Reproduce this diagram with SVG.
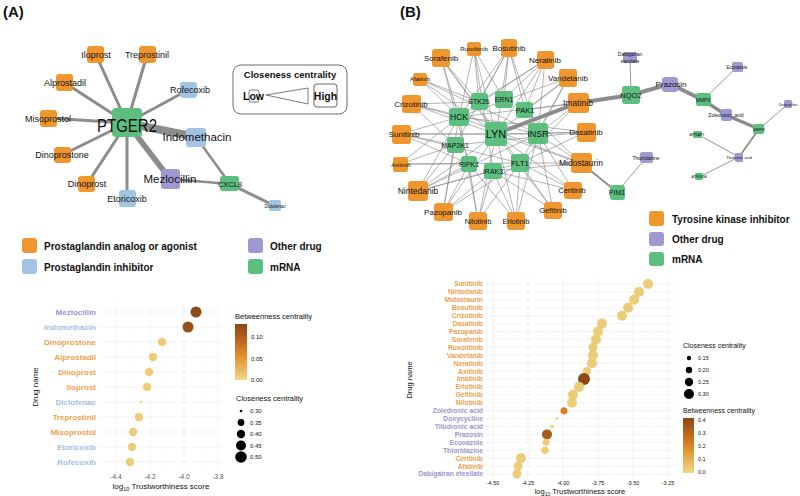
<svg xmlns="http://www.w3.org/2000/svg" width="800" height="496" viewBox="0 0 800 496">
<defs>
<style>
text{font-family:"Liberation Sans",Arial,sans-serif;fill:#111}
.or{fill:#F0962E}.bl{fill:#A3C3E3}.pu{fill:#9E99D1}.gr{fill:#5CBF80}
.lb{text-anchor:middle}
.e{stroke:#8C8C8C;fill:none;stroke-linecap:round}
.eb{stroke:#888;fill:none;stroke-width:0.7;stroke-opacity:0.9}
.leg{font-weight:bold;font-size:10px}
.yl{font-weight:bold;text-anchor:end}
.lo{fill:#EE9F4E}.lbl{fill:#A3C1E1}.lpu{fill:#9C95CE}
.gmaj{stroke:#EBEBEB;stroke-width:0.6}
.gmin{stroke:#F4F4F4;stroke-width:0.4}
.tick{fill:#555;font-size:6.5px;text-anchor:middle}
.dl{fill:#EDCC78}
</style>
<linearGradient id="gA" x1="0" y1="0" x2="0" y2="1">
<stop offset="0" stop-color="#8B4513"/><stop offset="0.3" stop-color="#C0661E"/><stop offset="0.6" stop-color="#E3962F"/><stop offset="1" stop-color="#F1D88C"/>
</linearGradient>
</defs>
<rect width="800" height="496" fill="#fff"/>

<text x="3" y="17" font-size="15" font-weight="bold">(A)</text>
<text x="400" y="17" font-size="15" font-weight="bold">(B)</text>

<!-- Panel A connectors -->
<g id="edgesA">
<path class="e" stroke-width="3" d="M127 123L96 55M127 123L147 55M127 123L65 83M127 123L188 90M127 123L48 118M127 123L62 155M127 123L87 184M127 123L127 199M230 184L275 206"/>
<path class="e" stroke-width="8" d="M127 123L196 137"/>
<path class="e" stroke-width="5.5" d="M127 123L170 179"/>
<path class="e" stroke-width="2.5" d="M196 137L230 184M170 179L230 184"/>
</g>

<!-- Panel A nodes -->
<g id="nodePTGER2"><rect class="gr" x="112" y="108" width="30" height="29" rx="4"/><text class="lb" x="127" y="132" font-size="19" textLength="60" lengthAdjust="spacingAndGlyphs">PTGER2</text></g>
<g id="nodeIloprost"><rect class="or" x="87" y="46" width="17" height="17" rx="3"/><text class="lb" x="96" y="58" font-size="9">Iloprost</text></g>
<g id="nodeTreprostinil"><rect class="or" x="139" y="46" width="17" height="17" rx="3"/><text class="lb" x="147" y="58" font-size="9">Treprostinil</text></g>
<g id="nodeAlprostadil"><rect class="or" x="56" y="74" width="17" height="17" rx="3"/><text class="lb" x="65" y="86" font-size="9">Alprostadil</text></g>
<g id="nodeRofecoxib"><rect class="bl" x="180" y="82" width="17" height="16" rx="3"/><text class="lb" x="190" y="93" font-size="9">Rofecoxib</text></g>
<g id="nodeMisoprostol"><rect class="or" x="40" y="110" width="17" height="17" rx="3"/><text class="lb" x="48" y="122" font-size="9">Misoprostol</text></g>
<g id="nodeIndomethacin"><rect class="bl" x="186" y="128" width="20" height="19" rx="3"/><text class="lb" x="197" y="141" font-size="11.5">Indomethacin</text></g>
<g id="nodeDinoprostone"><rect class="or" x="54" y="147" width="17" height="16" rx="3"/><text class="lb" x="62" y="158" font-size="9">Dinoprostone</text></g>
<g id="nodeDinoprost"><rect class="or" x="78" y="176" width="17" height="16" rx="3"/><text class="lb" x="87" y="187" font-size="9">Dinoprost</text></g>
<g id="nodeEtoricoxib"><rect class="bl" x="119" y="190" width="17" height="17" rx="3"/><text class="lb" x="127" y="202" font-size="9">Etoricoxib</text></g>
<g id="nodeMezlocillin"><rect class="pu" x="161" y="169" width="19" height="20" rx="3"/><text class="lb" x="170" y="183" font-size="11.5">Mezlocillin</text></g>
<g id="nodeCXCL8"><rect class="gr" x="220" y="176" width="19" height="15" rx="3"/><text class="lb" x="230" y="187" font-size="7.5">CXCL8</text></g>
<g id="nodeDiclofenac"><rect class="bl" x="269" y="200" width="12" height="11" rx="2"/><text class="lb" x="275" y="208" font-size="4.5">Diclofenac</text></g>

<!-- Closeness legend A -->
<g id="closenessKey">
<rect x="233" y="65" width="114" height="49" rx="8" fill="none" stroke="#444" stroke-width="0.8"/>
<text x="290" y="78" class="lb" font-size="9.5" font-weight="bold">Closeness centrality</text>
<rect x="249" y="90" width="10" height="12" rx="2" fill="none" stroke="#444" stroke-width="0.7"/>
<text x="243" y="100" font-size="10.5" font-weight="bold">Low</text>
<polygon points="266,95 308,88 308,104" fill="none" stroke="#444" stroke-width="0.7"/>
<rect x="314" y="84" width="23" height="23" rx="3" fill="none" stroke="#444" stroke-width="0.8"/>
<text x="325.5" y="100" class="lb" font-size="10.5" font-weight="bold">High</text>
</g>

<!-- Legend A -->
<g id="legendA">
<rect class="or" x="22" y="238" width="15" height="15" rx="3"/><text class="leg" x="44" y="250">Prostaglandin analog or agonist</text>
<rect class="bl" x="22" y="259" width="15" height="15" rx="3"/><text class="leg" x="44" y="271">Prostaglandin inhibitor</text>
<rect class="pu" x="248" y="238" width="15" height="15" rx="3"/><text class="leg" x="270" y="250">Other drug</text>
<rect class="gr" x="248" y="259" width="15" height="15" rx="3"/><text class="leg" x="270" y="271">mRNA</text>
</g>

<!-- Dot plot A -->
<g id="plotA">
<g class="gmin"><path d="M133 303V470M167 303V470M201 303V470"/></g>
<g class="gmaj"><path d="M116 303V470M150 303V470M184 303V470M218 303V470M100 312H222M100 327H222M100 342H222M100 357H222M100 372H222M100 387H222M100 402H222M100 417H222M100 432H222M100 447H222M100 462H222"/></g>
<g font-size="8">
<text class="yl lpu" x="96" y="315">Mezlocillin</text>
<text class="yl lbl" x="96" y="330">Indomethacin</text>
<text class="yl lo" x="96" y="345">Dinoprostone</text>
<text class="yl lo" x="96" y="360">Alprostadil</text>
<text class="yl lo" x="96" y="375">Dinoprost</text>
<text class="yl lo" x="96" y="390">Iloprost</text>
<text class="yl lbl" x="96" y="405">Diclofenac</text>
<text class="yl lo" x="96" y="420">Treprostinil</text>
<text class="yl lo" x="96" y="435">Misoprostol</text>
<text class="yl lbl" x="96" y="450">Etoricoxib</text>
<text class="yl lbl" x="96" y="465">Rofecoxib</text>
</g>
<circle cx="196" cy="312" r="5.5" fill="#8F4B16"/>
<circle cx="188" cy="327" r="5.5" fill="#97501A"/>
<circle class="dl" cx="162" cy="342" r="4.2"/>
<circle class="dl" cx="153" cy="357" r="4.2"/>
<circle class="dl" cx="149" cy="372" r="4.2"/>
<circle class="dl" cx="147" cy="387" r="4.2"/>
<circle class="dl" cx="141" cy="402" r="1.3"/>
<circle class="dl" cx="139" cy="417" r="4.2"/>
<circle class="dl" cx="133" cy="432" r="4.2"/>
<circle class="dl" cx="132" cy="447" r="4.2"/>
<circle class="dl" cx="130" cy="462" r="4.2"/>
<text class="tick" x="116" y="479">-4.4</text><text class="tick" x="150" y="479">-4.2</text><text class="tick" x="184" y="479">-4.0</text><text class="tick" x="218" y="479">-3.8</text>
<text x="161" y="489" font-size="8" text-anchor="middle">log<tspan font-size="5.5" dy="2">10</tspan><tspan dy="-2"> Trustworthiness score</tspan></text>
<text transform="translate(38,387) rotate(-90)" font-size="8" text-anchor="middle">Drug name</text>
<text x="235" y="319" font-size="7.5">Betweenness centrality</text>
<rect x="235" y="324" width="12" height="56" fill="url(#gA)"/>
<g font-size="6" fill="#444"><text x="251" y="339">0.10</text><text x="251" y="361">0.05</text><text x="251" y="382">0.00</text></g>
<text x="236" y="401" font-size="7.5">Closeness centrality</text>
<g fill="#000"><circle cx="241" cy="411" r="1.3"/><circle cx="241" cy="422.5" r="3.4"/><circle cx="241" cy="434" r="4.2"/><circle cx="241" cy="445.5" r="5"/><circle cx="241" cy="457" r="5.8"/></g>
<g font-size="6" fill="#444"><text x="250" y="413">0.30</text><text x="250" y="424.5">0.35</text><text x="250" y="436">0.40</text><text x="250" y="447.5">0.45</text><text x="250" y="459">0.50</text></g>
</g>

<!-- Panel B connectors -->
<g id="edgesB">
<path class="eb" d="M474 49L459 117M474 49L479 102M474 49L496 134M474 49L504 99M474 49L493 171
M509 48L479 102M509 48L504 99M509 48L525 110M509 48L496 134M509 48L459 117M509 48L455 145M509 48L538 134
M441 58L459 117M441 58L479 102M441 58L496 134M441 58L469 164M441 58L520 163
M545 60L459 117M545 60L479 102M545 60L504 99M545 60L525 110M545 60L538 134M545 60L496 134
M420 79L459 117M420 79L479 102M420 79L496 134M420 79L538 134
M411 104L459 117M411 104L479 102M411 104L496 134M411 104L538 134M411 104L455 145
M568 78L525 110M568 78L496 134M568 78L538 134M568 78L520 163M568 78L459 117
M578 103L538 134M578 103L520 163M578 103L459 117M578 103L525 110
M401 134L459 117M401 134L455 145M401 134L496 134M401 134L469 164M401 134L520 163M401 134L538 134
M586 132L538 134M586 132L496 134M586 132L520 163M586 132L459 117M586 132L455 145
M400 164L455 145M400 164L469 164M400 164L520 163M400 164L459 117
M581 163L538 134M581 163L520 163M581 163L496 134M581 163L493 171M581 163L459 117M581 163L525 110
M418 191L459 117M418 191L455 145M418 191L469 164M418 191L493 171M418 191L496 134M418 191L520 163M418 191L538 134
M573 190L520 163M573 190L538 134M573 190L496 134M573 190L493 171
M443 212L459 117M443 212L455 145M443 212L469 164M443 212L496 134M443 212L520 163M443 212L493 171
M553 210L520 163M553 210L493 171M553 210L538 134M553 210L496 134
M478 221L469 164M478 221L493 171M478 221L496 134M478 221L459 117M478 221L520 163
M516 221L493 171M516 221L520 163M516 221L496 134M516 221L469 164M516 221L538 134"/>
<path class="e" stroke-width="4" d="M496 134L578 103L631 95L670 84L703 100"/>
<path class="e" stroke-width="3.5" d="M703 100L726 115L759 129"/>
<path class="e" stroke-width="1.8" d="M581 163L617 192M759 129L739 157"/>
<path class="e" stroke-width="0.9" d="M617 192L646 158M631 95L630 57M703 100L737 67M759 129L788 104M739 157L697 134M739 157L699 177"/>
</g>

<!-- Panel B nodes -->
<g id="nodeRuxolitinib"><rect class="or" x="467" y="42" width="14" height="14" rx="2.5"/><text class="lb" x="474" y="51" font-size="6">Ruxolitinib</text></g>
<g id="nodeBosutinib"><rect class="or" x="501" y="39" width="16" height="18" rx="3"/><text class="lb" x="509" y="51" font-size="8">Bosutinib</text></g>
<g id="nodeSorafenib"><rect class="or" x="432" y="49" width="18" height="18" rx="3"/><text class="lb" x="441" y="61" font-size="8">Sorafenib</text></g>
<g id="nodeNeratinib"><rect class="or" x="537" y="51" width="17" height="18" rx="3"/><text class="lb" x="545" y="63" font-size="8">Neratinib</text></g>
<g id="nodeAfatinib"><rect class="or" x="413" y="73" width="14" height="13" rx="2.5"/><text class="lb" x="420" y="81" font-size="6">Afatinib</text></g>
<g id="nodeCrizotinib"><rect class="or" x="402" y="95" width="19" height="18" rx="3"/><text class="lb" x="411" y="107" font-size="8">Crizotinib</text></g>
<g id="nodeVandetanib"><rect class="or" x="559" y="69" width="18" height="18" rx="3"/><text class="lb" x="568" y="81" font-size="8">Vandetanib</text></g>
<g id="nodeImatinib"><rect class="or" x="568" y="93" width="21" height="20" rx="3"/><text class="lb" x="578" y="106" font-size="8.5">Imatinib</text></g>
<g id="nodeSunitinib"><rect class="or" x="392" y="125" width="19" height="19" rx="3"/><text class="lb" x="404" y="137" font-size="8">Sunitinib</text></g>
<g id="nodeDasatinib"><rect class="or" x="577" y="123" width="19" height="19" rx="3"/><text class="lb" x="586" y="135" font-size="8">Dasatinib</text></g>
<g id="nodeAxitinib"><rect class="or" x="393" y="157" width="15" height="15" rx="2.5"/><text class="lb" x="401" y="167" font-size="6">Axitinib</text></g>
<g id="nodeMidostaurin"><rect class="or" x="571" y="153" width="21" height="20" rx="3"/><text class="lb" x="581" y="166" font-size="8.5">Midostaurin</text></g>
<g id="nodeNintedanib"><rect class="or" x="408" y="181" width="20" height="20" rx="3"/><text class="lb" x="418" y="194" font-size="8.5">Nintedanib</text></g>
<g id="nodeCeritinib"><rect class="or" x="564" y="182" width="18" height="17" rx="3"/><text class="lb" x="572" y="193" font-size="7.5">Ceritinib</text></g>
<g id="nodePazopanib"><rect class="or" x="434" y="203" width="19" height="18" rx="3"/><text class="lb" x="443" y="215" font-size="8">Pazopanib</text></g>
<g id="nodeGefitinib"><rect class="or" x="544" y="202" width="18" height="17" rx="3"/><text class="lb" x="553" y="213" font-size="7.5">Gefitinib</text></g>
<g id="nodeNilotinib"><rect class="or" x="469" y="212" width="18" height="18" rx="3"/><text class="lb" x="478" y="224" font-size="7.5">Nilotinib</text></g>
<g id="nodeErlotinib"><rect class="or" x="507" y="212" width="18" height="18" rx="3"/><text class="lb" x="516" y="224" font-size="7.5">Erlotinib</text></g>

<g id="nodeSTK26"><rect class="gr" x="471" y="93" width="17" height="17" rx="3"/><text class="lb" x="479" y="104" font-size="7">STK26</text></g>
<g id="nodeERN1"><rect class="gr" x="495" y="91" width="18" height="17" rx="3"/><text class="lb" x="504" y="102" font-size="7">ERN1</text></g>
<g id="nodePAK1"><rect class="gr" x="516" y="102" width="17" height="16" rx="3"/><text class="lb" x="525" y="113" font-size="7.5">PAK1</text></g>
<g id="nodeHCK"><rect class="gr" x="449" y="108" width="20" height="18" rx="3"/><text class="lb" x="459" y="120" font-size="8.5">HCK</text></g>
<g id="nodeLYN"><rect class="gr" x="485" y="122" width="22" height="24" rx="3"/><text class="lb" x="496" y="138" font-size="11">LYN</text></g>
<g id="nodeINSR"><rect class="gr" x="528" y="123" width="20" height="21" rx="3"/><text class="lb" x="538" y="137" font-size="9">INSR</text></g>
<g id="nodeMAP2K1"><rect class="gr" x="447" y="137" width="17" height="16" rx="3"/><text class="lb" x="455" y="148" font-size="7">MAP2K1</text></g>
<g id="nodeRIPK1"><rect class="gr" x="461" y="156" width="16" height="16" rx="3"/><text class="lb" x="469" y="167" font-size="7">RIPK1</text></g>
<g id="nodeIRAK3"><rect class="gr" x="484" y="163" width="18" height="16" rx="3"/><text class="lb" x="493" y="174" font-size="7">IRAK3</text></g>
<g id="nodeFLT1"><rect class="gr" x="511" y="154" width="18" height="18" rx="3"/><text class="lb" x="520" y="166" font-size="8">FLT1</text></g>
<g id="nodeNQO2"><rect class="gr" x="622" y="86" width="18" height="18" rx="3"/><text class="lb" x="631" y="98" font-size="7.5">NQO2</text></g>
<g id="nodePIM1"><rect class="gr" x="610" y="185" width="15" height="15" rx="3"/><text class="lb" x="617" y="195" font-size="7">PIM1</text></g>
<g id="nodeDabigatran"><rect class="pu" x="623" y="52" width="14" height="11" rx="2"/><text class="lb" x="630" y="56" font-size="5">Dabigatran</text><text class="lb" x="630" y="63" font-size="5">etexilate</text></g>
<g id="nodeThioridazine"><rect class="pu" x="640" y="152" width="13" height="11" rx="2"/><text class="lb" x="646" y="160" font-size="5">Thioridazine</text></g>
<g id="nodePrazosin"><rect class="pu" x="662" y="77" width="16" height="15" rx="3"/><text class="lb" x="671" y="87" font-size="8">Prazosin</text></g>
<g id="nodeEconazole"><rect class="pu" x="732" y="62" width="11" height="10" rx="2"/><text class="lb" x="737" y="69" font-size="4.5">Econazole</text></g>
<g id="nodeMMP9"><rect class="gr" x="696" y="93" width="15" height="13" rx="2.5"/><text class="lb" x="703" y="102" font-size="5">MMP9</text></g>
<g id="nodeZoledronic"><rect class="pu" x="721" y="109" width="11" height="12" rx="2"/><text class="lb" x="726" y="117" font-size="5">Zoledronic_acid</text></g>
<g id="nodeDoxycycline"><rect class="pu" x="784" y="100" width="8" height="8" rx="1.5"/><text class="lb" x="788" y="105.5" font-size="3.5">Doxycycline</text></g>
<g id="nodeMMP8"><rect class="gr" x="753" y="124" width="11" height="10" rx="2"/><text class="lb" x="759" y="131" font-size="4">MMP8</text></g>
<g id="nodeATP6AP1"><rect class="gr" x="693" y="131" width="9" height="7" rx="1.5"/><text class="lb" x="697" y="136" font-size="3.5">ATP6AP1</text></g>
<g id="nodeTiludronic"><rect class="pu" x="735" y="153" width="8" height="9" rx="1.5"/><text class="lb" x="739" y="159" font-size="4">Tiludronic acid</text></g>
<g id="nodeATP6V1A"><rect class="gr" x="695" y="173" width="8" height="7" rx="1.5"/><text class="lb" x="699" y="178" font-size="3.5">ATP6V1A</text></g>

<!-- Legend B -->
<g id="legendB">
<rect class="or" x="649" y="211" width="15" height="15" rx="3"/><text class="leg" x="672" y="222.5" font-size="10.5">Tyrosine kinase inhibitor</text>
<rect class="pu" x="649" y="232" width="15" height="14" rx="3"/><text class="leg" x="672" y="243" font-size="10.5">Other drug</text>
<rect class="gr" x="649" y="252" width="15" height="14" rx="3"/><text class="leg" x="672" y="263" font-size="10.5">mRNA</text>
</g>

<!-- Dot plot B -->
<g id="plotB">
<g class="gmin"><path d="M510.5 278V480M545.5 278V480M580.5 278V480M615.5 278V480M650.5 278V480"/></g>
<g class="gmaj"><path d="M493 278V480M528 278V480M563 278V480M598 278V480M633 278V480M668 278V480
M486 284H676M486 291.9H676M486 299.8H676M486 307.8H676M486 315.7H676M486 323.6H676M486 331.5H676M486 339.4H676M486 347.3H676M486 355.3H676M486 363.2H676M486 371.1H676M486 379H676M486 386.9H676M486 394.8H676M486 402.8H676M486 410.7H676M486 418.6H676M486 426.5H676M486 434.4H676M486 442.3H676M486 450.3H676M486 458.2H676M486 466.1H676M486 474H676"/></g>
<g font-size="6.8">
<text class="yl lo" x="483" y="286.4">Sunitinib</text>
<text class="yl lo" x="483" y="294.3">Nintedanib</text>
<text class="yl lo" x="483" y="302.2">Midostaurin</text>
<text class="yl lo" x="483" y="310.2">Bosutinib</text>
<text class="yl lo" x="483" y="318.1">Crizotinib</text>
<text class="yl lo" x="483" y="326">Dasatinib</text>
<text class="yl lo" x="483" y="333.9">Pazopanib</text>
<text class="yl lo" x="483" y="341.8">Sorafenib</text>
<text class="yl lo" x="483" y="349.7">Ruxolitinib</text>
<text class="yl lo" x="483" y="357.7">Vandetanib</text>
<text class="yl lo" x="483" y="365.6">Neratinib</text>
<text class="yl lo" x="483" y="373.5">Axitinib</text>
<text class="yl lo" x="483" y="381.4">Imatinib</text>
<text class="yl lo" x="483" y="389.3">Erlotinib</text>
<text class="yl lo" x="483" y="397.2">Gefitinib</text>
<text class="yl lo" x="483" y="405.2">Nilotinib</text>
<text class="yl lpu" x="483" y="413.1">Zoledronic acid</text>
<text class="yl lpu" x="483" y="421">Doxycycline</text>
<text class="yl lpu" x="483" y="428.9">Tiludronic acid</text>
<text class="yl lpu" x="483" y="436.8">Prazosin</text>
<text class="yl lpu" x="483" y="444.7">Econazole</text>
<text class="yl lpu" x="483" y="452.7">Thioridazine</text>
<text class="yl lo" x="483" y="460.6">Ceritinib</text>
<text class="yl lo" x="483" y="468.5">Afatinib</text>
<text class="yl lpu" x="483" y="476.4">Dabigatran etexilate</text>
</g>
<circle class="dl" cx="648" cy="284" r="5"/>
<circle class="dl" cx="639" cy="291.9" r="5"/>
<circle class="dl" cx="634" cy="299.8" r="5"/>
<circle class="dl" cx="628" cy="307.8" r="5"/>
<circle class="dl" cx="622" cy="315.7" r="5"/>
<circle class="dl" cx="602" cy="323.6" r="5"/>
<circle class="dl" cx="598" cy="331.5" r="5"/>
<circle class="dl" cx="596" cy="339.4" r="5"/>
<circle class="dl" cx="593" cy="347.3" r="4.5"/>
<circle class="dl" cx="593" cy="355.3" r="5"/>
<circle class="dl" cx="592" cy="363.2" r="5"/>
<circle class="dl" cx="587" cy="371.1" r="4"/>
<circle cx="584" cy="379" r="6" fill="#8E4914"/>
<circle class="dl" cx="579" cy="386.9" r="5"/>
<circle class="dl" cx="573" cy="394.8" r="5"/>
<circle class="dl" cx="572" cy="402.8" r="5"/>
<circle cx="564" cy="410.7" r="3.5" fill="#E07C20"/>
<circle class="dl" cx="557" cy="418.6" r="1.3"/>
<circle class="dl" cx="552" cy="426.5" r="1.8"/>
<circle cx="547" cy="434.4" r="5" fill="#A9591A"/>
<circle class="dl" cx="546" cy="442.3" r="3.5"/>
<circle class="dl" cx="545" cy="450.3" r="3.8"/>
<circle class="dl" cx="521" cy="458.2" r="5"/>
<circle class="dl" cx="518" cy="466.1" r="4.5"/>
<circle class="dl" cx="517" cy="474" r="4.5"/>
<g class="tick" style="font-size:5.5px"><text x="493" y="485">-4.50</text><text x="528" y="485">-4.25</text><text x="563" y="485">-4.00</text><text x="598" y="485">-3.75</text><text x="633" y="485">-3.50</text><text x="668" y="485">-3.25</text></g>
<text x="580" y="494" font-size="7.5" text-anchor="middle">log<tspan font-size="5" dy="1.8">10</tspan><tspan dy="-1.8"> Trustworthiness score</tspan></text>
<text transform="translate(412,380) rotate(-90)" font-size="7.5" text-anchor="middle">Drug name</text>
<text x="683" y="348" font-size="7">Closeness centrality</text>
<g fill="#000"><circle cx="689" cy="358" r="2.2"/><circle cx="689" cy="370" r="3.2"/><circle cx="689" cy="382" r="4.2"/><circle cx="689" cy="394" r="5"/></g>
<g font-size="5.5" fill="#444"><text x="698" y="360">0.15</text><text x="698" y="372">0.20</text><text x="698" y="384">0.25</text><text x="698" y="396">0.30</text></g>
<text x="683" y="413" font-size="7">Betweenness centrality</text>
<rect x="683" y="418" width="11" height="55" fill="url(#gA)"/>
<g font-size="5.5" fill="#444"><text x="698" y="422">0.4</text><text x="698" y="435">0.3</text><text x="698" y="448">0.2</text><text x="698" y="461">0.1</text><text x="698" y="474">0.0</text></g>
</g>
</svg>
